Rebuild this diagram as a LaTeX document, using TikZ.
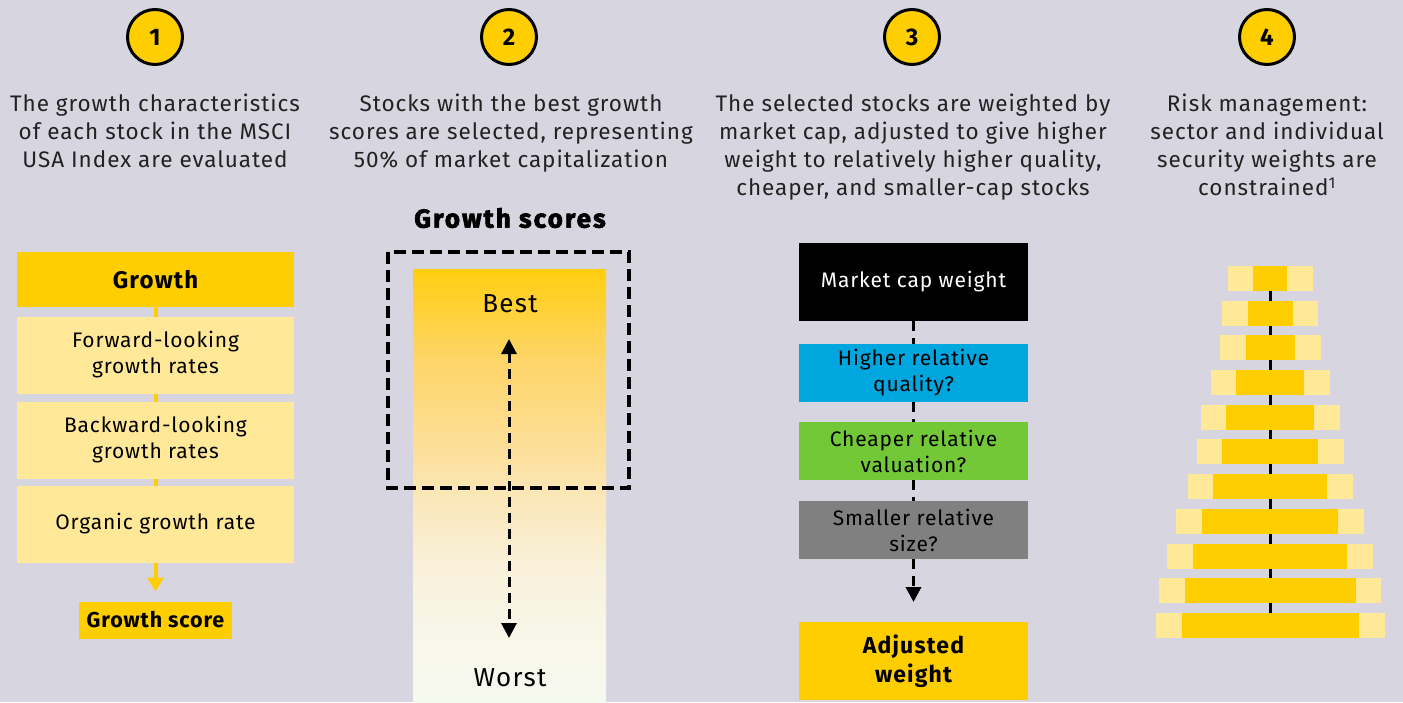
\documentclass[tikz,border=0pt]{standalone}
\usepackage{fontspec}
\setmainfont{Fira Sans}
\newcommand{\lsp}[1]{\addfontfeatures{LetterSpace=#1}}
\usetikzlibrary{arrows.meta}
\definecolor{bg}{HTML}{D7D6E0}
\definecolor{gold}{HTML}{FFCE00}
\definecolor{lyel}{HTML}{FFE998}
\definecolor{qblue}{HTML}{00A6DE}
\definecolor{vgreen}{HTML}{72C837}
\definecolor{sgray}{HTML}{808080}
\definecolor{txt}{HTML}{222222}
\definecolor{gA}{HTML}{F6F9EF}
\definecolor{gB}{HTML}{F8F6E8}
\definecolor{gC}{HTML}{F9F0D8}
\definecolor{gD}{HTML}{FBE6B4}
\definecolor{gE}{HTML}{FCE0A0}
\definecolor{gF}{HTML}{FED568}
\definecolor{gG}{HTML}{FFCE10}
\pgfdeclareverticalshading{scoregrad}{100bp}{color(0bp)=(gA); color(25bp)=(gA); color(33.7bp)=(gB); color(41.4bp)=(gC); color(49.5bp)=(gD); color(52.9bp)=(gE); color(64.5bp)=(gF); color(75bp)=(gG); color(100bp)=(gG)}
\begin{document}
\begin{tikzpicture}[x=1pt,y=-1pt,
  every node/.style={inner sep=0pt, outer sep=0pt},
  numc/.style={circle, draw=black, line width=3pt, fill=gold, minimum size=55pt, font=\bfseries\fontsize{24}{24}\selectfont},
  head/.style={anchor=north, align=center, text=txt, font=\fontsize{22.5}{28}\selectfont\lsp{4.3}},
  ybox/.style={fill=lyel, minimum width=277pt, minimum height=77pt, align=center, font=\fontsize{21}{26}\selectfont\lsp{4}},
  gbox/.style={fill=gold, align=center},
  cbox/.style={minimum width=229pt, minimum height=58pt, align=center, font=\fontsize{21}{26}\selectfont\lsp{4}},
  gline/.style={draw=gold, line width=4pt},
  garrow/.style={gline, -{Triangle[width=16pt,length=14pt]}, shorten >=10pt},
  dline/.style={draw=black, line width=3.5pt, dash pattern=on 10pt off 7pt},
  darrow/.style={dline, -{Triangle[width=15pt,length=15pt]}, shorten >=20pt},
  dbl/.style={draw=black, line width=3pt, dash pattern=on 10pt off 6pt, {Triangle[width=15pt,length=15pt]}-{Triangle[width=15pt,length=15pt]}},
  lbar/.style={fill=lyel},
  dbar/.style={fill=gold}
]
\fill[bg] (0,0) rectangle (1403,702);
\useasboundingbox (0,0) rectangle (1403,702);

% step circles
\node[numc] (n1) at (155,37) {1};
\node[numc] (n2) at (509,37) {2};
\node[numc] (n3) at (912,37) {3};
\node[numc] (n4) at (1267,37) {4};

% headings
\node[head] (h1) at (155,94) {The growth characteristics\\of each stock in the MSCI\\USA Index are evaluated};
\node[head] (h2) at (511,94) {Stocks with the best growth\\scores are selected, representing\\50\% of market capitalization};
\node[head] (h3) at (913,94) {The selected stocks are weighted by\\market cap, adjusted to give higher\\weight to relatively higher quality,\\cheaper, and smaller-cap stocks};
\node[head] (h4) at (1267,94) {Risk management:\\sector and individual\\security weights are\\constrained\textsuperscript{1}};

% column 1
\node[gbox, minimum width=277pt, minimum height=55pt, font=\bfseries\fontsize{24}{28}\selectfont\lsp{5}] (grow) at (155.5,279.5) {Growth};
\node[ybox] (fwd) at (155.5,355) {Forward-looking\\growth rates};
\node[ybox] (bwd) at (155.5,440) {Backward-looking\\growth rates};
\node[ybox] (org) at (155.5,524) {Organic growth rate};
\node[gbox, minimum width=153pt, minimum height=37pt, font=\bfseries\fontsize{21.5}{24}\selectfont\lsp{4}] (score) at (155.5,620) {Growth score};
\draw[gline] (grow.south) -- (fwd.north);
\draw[gline] (fwd.south) -- (bwd.north);
\draw[gline] (bwd.south) -- (org.north);
\draw[garrow] (org.south) -- (score.north);

% column 2
\node[font=\bfseries\fontsize{26}{26}\selectfont\addfontfeatures{FakeBold=2.5,LetterSpace=8}] (gst) at (510,218) {Growth scores};
\shade[shading=scoregrad] (413,269) rectangle (606,702);
\draw[line width=4pt, dash pattern=on 12pt off 6pt] (388,252) rectangle (629,488);
\node[font=\fontsize{26}{26}\selectfont\lsp{5}] (best) at (510,304) {Best};
\node[font=\fontsize{26}{26}\selectfont\lsp{5}] (worst) at (510,678) {Worst};
\coordinate (at) at (509,339);
\coordinate (ab) at (509,638);
\draw[dbl] (at) -- (ab);

% column 3
\node[cbox, fill=black, text=white, minimum height=78pt] (mkt) at (913.5,282) {Market cap weight};
\node[cbox, fill=qblue] (qual) at (913.5,373) {Higher relative\\quality?};
\node[cbox, fill=vgreen] (val) at (913.5,451) {Cheaper relative\\valuation?};
\node[cbox, fill=sgray] (size) at (913.5,530) {Smaller relative\\size?};
\node[cbox, fill=gold, minimum height=78pt, font=\bfseries\fontsize{23}{29}\selectfont\lsp{5}] (adj) at (913.5,661) {Adjusted\\weight};
\draw[dline] (mkt.south) -- (qual.north);
\draw[dline] (qual.south) -- (val.north);
\draw[dline] (val.south) -- (size.north);
\draw[darrow] (size.south) -- (adj.north);

% column 4 pyramid
\draw[line width=3pt] (1270,291) -- (1270,613);
\foreach \yy/\la/\lb/\da/\db in {
  266/1228/1313/1253/1287,
  301/1222/1318/1248/1293,
  335/1220/1321/1246/1295,
  370/1211/1330/1236/1304,
  405/1201/1340/1226/1314,
  439/1197/1344/1222/1318,
  474/1188/1353/1213/1327,
  509/1176/1364/1202/1338,
  544/1167/1373/1193/1347,
  578/1159/1381/1185/1356,
  613/1156/1385/1182/1359} {
  \fill[lbar] (\la,\yy) rectangle (\lb,\yy+25);
  \fill[dbar] (\da,\yy) rectangle (\db,\yy+25);
}
\end{tikzpicture}
\end{document}
